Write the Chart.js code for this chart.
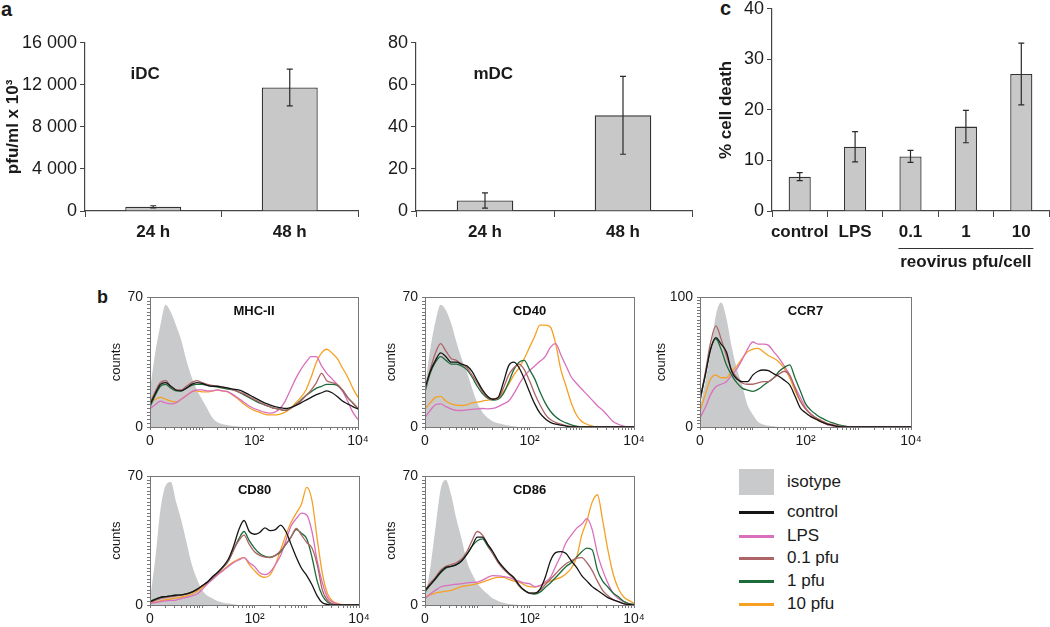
<!DOCTYPE html>
<html>
<head>
<meta charset="utf-8">
<script src="https://cdn.jsdelivr.net/npm/chart.js@4.4.1/dist/chart.umd.min.js"></script>
<style>
  body { margin: 0; width: 1050px; height: 627px; position: relative; overflow: hidden; background: #fff;
         font-family: 'Liberation Sans', Arial, sans-serif; color: #1a1a1a; }
  .tag { position: absolute; font-weight: bold; line-height: 1; }
  .legend { position: absolute; left: 739px; top: 469px; font-size: 17px; }
  .legend .row { position: absolute; left: 0; height: 24px; width: 160px; }
  .legend .sw { position: absolute; left: 0; }
  .legend .tx { position: absolute; left: 48px; top: 0; line-height: 24px; white-space: nowrap; }
</style>
</head>
<body>
<div class="tag" style="left:1px;top:-1px;font-size:20px">a</div>
<div class="tag" style="left:97px;top:288px;font-size:18px">b</div>
<div class="tag" style="left:720px;top:-2px;font-size:20px">c</div>
<div class="legend" id="legend"></div>

<script>
// ---- panel a : virus titres ----
const timeLabels = ['24 h', '48 h'];
const iDC = [400, 11750];
const iDCErr = [100, 1750];
const mDC = [5, 45.5];
const mDCErr = [3.6, 18.5];

// ---- panel c : cell death ----
const deathLabels = ['control', 'LPS', '0.1', '1', '10'];
const death = [6.8, 12.7, 10.8, 16.7, 27.1];
const deathErr = [0.8, 3.0, 1.2, 3.2, 6.1];

// ---- panel b : histograms, x in decades (0 = left edge, 2 = 10^2, 4 = 10^4) ----
const BINS = [0, 0.1, 0.2, 0.3, 0.4, 0.5, 0.6, 0.7, 0.8, 0.9, 1, 1.1, 1.2, 1.3, 1.4, 1.5, 1.6, 1.7, 1.8, 1.9,
  2, 2.1, 2.2, 2.3, 2.4, 2.5, 2.6, 2.7, 2.8, 2.9, 3, 3.1, 3.2, 3.3, 3.4, 3.5, 3.6, 3.7, 3.8, 3.9, 4];
const seriesNames = ['isotype', 'control', 'LPS', '0.1 pfu', '1 pfu', '10 pfu'];

const mhc_iso = [20,40,55,66,62,55,47,36,27,20, 15,10,5,2.5,1.5,1,0.5,0.3,0,0, 0,0,0,0,0,0,0,0,0,0, 0,0,0,0,0,0,0,0,0,0, 0];
const mhc_ctrl = [12,18,23,24,22,20,19.5,21,23,24, 23.5,22.5,22,22,21.5,21,20.5,20,19,17.5, 16,14.5,13,12,11,10.5,10,10.5,11.5,13, 14.5,16,17.5,18.5,19.5,18.5,16.5,14,12.5,11, 9.7];
const mhc_lps = [10,12,14,13,12.5,13,15,17,19,20, 20,19.5,19.5,20,19.5,19,17.5,15.5,13.5,11.5, 10,9,8,7.5,8,10,14,20,26,31, 35,38,38,33,29,26,23,19.5,14,8, 4];
const mhc_p01 = [13,19,24,25,22,20,20,22,24,25, 24,23,22.5,22,21.5,21,20,19,18,16.5, 15,13.5,12,11,10,9.5,9,10,12,14, 17,20,24,29,25,24,23,20,16,13, 10];
const mhc_p1 = [11,17,22,23,21,19.5,19.5,21,22.5,23, 23,22.5,22,21.5,21,20.5,20,19,17.5,16, 14.5,13,12,11,10,9.5,9,10,12,14.5, 17,19,21,22,23,23,22.5,20,16,13, 10];
const mhc_p10 = [13,15,16,15,14,13.5,15,17,19,19.5, 19,19,19.5,20,19.5,19,17,15,12.5,10.5, 9,8,7,6.5,6.5,7,8,10,13,16, 20,27,35,40,42,40,37,32,27,21, 16];

const cd40_iso = [22,42,57,66,63,56,46,37,30,21, 13,8,5,3,2,1.4,0.8,0.4,0,0, 0,0,0,0,0,0,0,0,0,0, 0,0,0,0,0,0,0,0,0,0, 0];
const cd40_ctrl = [21,30,36,40,38,35,35,34,33,30, 25,20,16.5,15,16,24,33,35,32,26, 19,12.5,7.5,4.5,2.5,1.5,1,0.5,0,0, 0,0,0,0,0,0,0,0,0,0, 0];
const cd40_lps = [5,9,12,12.5,11,9.8,9,8.9,9.2,9.5, 9.8,10,9.8,10,11,12.5,14,18,23,27.5, 30.5,33,35.5,38,43,45,39,33,27,23.5, 20.5,17.5,14.5,11.5,9,6,3,1.5,0.5,0, 0];
const cd40_p01 = [20,31,40,45,41,37,36,34,32,28, 24,19,16,15,15.5,21,28,32,34,31, 25,18,12,7,4,2.5,1.5,0.8,0.3,0, 0,0,0,0,0,0,0,0,0,0, 0];
const cd40_p1 = [19,29,35,38,36,34,34,33,31,27, 22,18,15.5,14.5,15,18,24,31,35,36, 31,26,19,13,8.5,5.5,3.5,2.2,1.2,0.5, 0,0,0,0,0,0,0,0,0,0, 0];
const cd40_p10 = [9.8,13,16,16.5,14,12.5,11.8,11.6,12,13, 13.4,14,14.5,15,16,19,23,28,32,37, 43,49,55,55,54,45,31,22,13,6.5, 3,1.5,0.5,0,0,0,0,0,0,0, 0];

const ccr7_iso = [15,35,58,86,96,84,62,45,32,17, 9.7,4,2,1,0.5,0,0,0,0,0, 0,0,0,0,0,0,0,0,0,0, 0,0,0,0,0,0,0,0,0,0, 0];
const ccr7_ctrl = [22,40,60,69,64,58,43,37,35,35, 40,43,44,43.5,41,39,36,32.6,24,14.8, 11,8,6,4,2.5,1.5,0.5,0,0,0, 0,0,0,0,0,0,0,0,0,0, 0];
const ccr7_lps = [7,15,25,31,33,35,40,45,52,60, 65.6,64,64,63,58,53,47,40,31,23, 15,10,7,4,2,1,0.5,0,0,0, 0,0,0,0,0,0,0,0,0,0, 0];
const ccr7_p01 = [20,42,65,78,68,55,44,38,34,33, 33,34,35,35,38,41,43,40,30,20, 14,10,7,5,3,2,1,0.5,0,0, 0,0,0,0,0,0,0,0,0,0, 0];
const ccr7_p1 = [20,40,60,68,60,48,40,34,30,28.5, 27.5,29,32,35,38,43,46,48,38,28, 18,13,9.7,7,5,3.3,2,1,0.3,0, 0,0,0,0,0,0,0,0,0,0, 0];
const ccr7_p10 = [12,25,37,40,38,38,43,47,53,58, 60,60.6,58,55,53,50,45,38,28,20, 14,9.7,6,4,2,1,0.5,0,0,0, 0,0,0,0,0,0,0,0,0,0, 0];

const cd80_iso = [3,25,52,65,67,56,46,34,22,14, 8,5,3.6,2,1.2,0.8,0.4,0,0,0, 0,0,0,0,0,0,0,0,0,0, 0,0,0,0,0,0,0,0,0,0, 0];
const cd80_ctrl = [1.8,3,4.2,4.6,5,5.3,5.5,6,7,8.5, 10.5,12.5,15.5,18,21,25,32,41,46,40, 38.5,39.5,42,40.5,41,43.5,40,33,26,20, 16,11,5,1.2,0.3,0,0,0,0,0, 0];
const cd80_lps = [0.9,1.3,1.8,2.2,2.5,2.7,3.5,4.2,5,6, 8.5,11.6,14,16.5,18.7,21,23,24.5,25.8,23, 21,17.5,16.5,18,22,27,35,43,47,50, 49,40,24,12,4,1.5,0.5,0,0,0, 0];
const cd80_p01 = [1.5,2.5,3.5,4,4.5,5,5.5,6,7,8.5, 10.5,12.5,15,17.5,20.5,24,30,35,38,33, 29,27,26,25.8,27,29.5,33,37,41.7,38, 34,31,22,8,2.5,0.5,0,0,0,0, 0];
const cd80_p1 = [2,3.2,4.2,4.6,5,5.3,5.5,6,7,8.5, 10.5,12.5,15,17.5,20.5,24,30,36,40,35, 31,28,26.5,26,27,29,33,37,41,39, 36,26,13,5,1.5,0.5,0,0,0,0, 0];
const cd80_p10 = [1,1.5,2.2,2.8,3.3,3.8,4.3,5,6,7.5, 9.5,12,14.5,17,19,21.5,23.5,25,25.8,22, 18.7,16,15,16.5,22,30,38,45,50,55, 64,57,36,17,6,2,0.8,0,0,0, 0];

const cd86_iso = [4,20,42,63,68,60,47,36,24,17, 12,8.5,6,3.5,2.2,1.2,0.6,0.3,0,0, 0,0,0,0,0,0,0,0,0,0, 0,0,0,0,0,0,0,0,0,0, 0];
const cd86_ctrl = [8,11,14.5,18,20.5,21,22,24,27.5,32, 37,37,33,29,24,20.5,17.5,15,11,8, 6.5,6.5,8.5,15,24,28.5,29,28,24,20.5, 16,13,10,8,6,4,2.8,1.8,0.8,0.3, 0];
const cd86_lps = [3.6,6,8,9.8,10.5,11,11.3,11.6,12,12.3, 12.5,13.5,15,16,15.8,15.5,15,14,13,12, 11.6,10,10.5,12.5,15,21,27,34,38,41.7, 44,47,41,28,19,12,6.5,3.5,1.8,0.8, 0.3];
const cd86_p01 = [8,12,15,19,21,22,23,25,29,35, 40,38,33,28,23,19.5,17,14.5,10.5,8, 6.5,6.5,8,11,14,17,20,22.5,24,25.5, 25.8,23,18.7,13,8,5,3,1.8,0.8,0.3, 0];
const cd86_p1 = [7,11,14,17.5,20,21,22,24,27.5,32, 35,36,32,28,23.5,20,17,14.5,10.5,8, 6.5,6,7,9.5,12,15,18,21,23,26, 29,31,30,19,13,9.8,6.5,4.5,2,0.8, 0.3];
const cd86_p10 = [4.5,5.5,6.5,7,7.5,8,9,10,10.5,11, 11.6,12.5,13.5,14.5,15,15,14,13,12.5,11, 10,9.8,10.5,12,13,14,15,17,20,25.8, 38,46,56,60,46,30,17,9,4.5,2.5, 1];

const FONT = "'Liberation Sans', Arial, sans-serif";
const ISO_COLOR = '#c9cacc';
const LINE_COLORS = { 'control': '#151515', 'LPS': '#d970bd', '0.1 pfu': '#ad6466', '1 pfu': '#1d6b38', '10 pfu': '#f6a024' };

Chart.defaults.font.family = FONT;
Chart.defaults.color = '#1a1a1a';
Chart.defaults.animation = false;

function addCanvas(area, yW, xH, padT, padR) {
    const c = document.createElement('canvas');
    const w = area[2] - area[0] + yW + padR;
    const h = area[3] - area[1] + padT + xH;
    c.width = w; c.height = h;
    c.style.cssText = `position:absolute;left:${area[0] - yW}px;top:${area[1] - padT}px;width:${w}px;height:${h}px`;
    document.body.appendChild(c);
    return c;
}

// error bars drawn from the bar values through the y scale
const errorBars = {
    id: 'errorBars',
    afterDatasetsDraw(chart, args, opts) {
        const ctx = chart.ctx;
        const y = chart.scales.y;
        const vals = chart.data.datasets[0].data;
        ctx.save();
        ctx.strokeStyle = '#2a2a2a';
        ctx.lineWidth = 1.2;
        chart.getDatasetMeta(0).data.forEach((bar, i) => {
            const top = y.getPixelForValue(vals[i] + opts.errors[i]);
            const bot = y.getPixelForValue(Math.max(vals[i] - opts.errors[i], 0));
            ctx.beginPath();
            ctx.moveTo(bar.x, top); ctx.lineTo(bar.x, bot);
            ctx.moveTo(bar.x - 3, top); ctx.lineTo(bar.x + 3, top);
            ctx.moveTo(bar.x - 3, bot); ctx.lineTo(bar.x + 3, bot);
            ctx.stroke();
        });
        ctx.restore();
    }
};

// bold label inside a bar panel (iDC / mDC)
const note = {
    id: 'note',
    afterDraw(chart, args, o) {
        if (!o.text) return;
        const ctx = chart.ctx;
        ctx.save();
        ctx.font = `bold 17px ${FONT}`;
        ctx.fillStyle = '#1a1a1a';
        ctx.textAlign = 'center';
        ctx.textBaseline = 'middle';
        ctx.fillText(o.text, chart.scales.x.getPixelForValue(o.at), chart.scales.y.getPixelForValue(o.value));
        ctx.restore();
    }
};

// "reovirus pfu/cell" bracket under the last three bars
const groupLabel = {
    id: 'groupLabel',
    afterDraw(chart, args, o) {
        if (!o.text) return;
        const ctx = chart.ctx;
        const bars = chart.getDatasetMeta(0).data;
        const x0 = bars[o.from].x - bars[o.from].width / 2 - 1;
        const x1 = bars[o.to].x + bars[o.to].width / 2 + 1;
        const y = chart.chartArea.bottom + o.gap;
        ctx.save();
        ctx.strokeStyle = '#333';
        ctx.lineWidth = 1;
        ctx.beginPath();
        ctx.moveTo(x0, y + 0.5); ctx.lineTo(x1, y + 0.5);
        ctx.stroke();
        ctx.font = `bold 17px ${FONT}`;
        ctx.fillStyle = '#1a1a1a';
        ctx.textAlign = 'center';
        ctx.textBaseline = 'top';
        ctx.fillText(o.text, (x0 + x1) / 2, y + 6);
        ctx.restore();
    }
};

// box around a histogram and its marker name
const frame = {
    id: 'frame',
    afterDraw(chart, args, o) {
        const { ctx, chartArea: a } = chart;
        ctx.save();
        ctx.strokeStyle = '#777';
        ctx.lineWidth = 1;
        ctx.strokeRect(Math.round(a.left) + 0.5, Math.round(a.top) + 0.5, Math.round(a.right - a.left), Math.round(a.bottom - a.top));
        ctx.font = `bold 13px ${FONT}`;
        ctx.fillStyle = '#111';
        ctx.textAlign = 'center';
        ctx.textBaseline = 'middle';
        ctx.fillText(o.title, (a.left + a.right) / 2, a.top + 14);
        ctx.restore();
    }
};

const spaced = v => String(v).replace(/\B(?=(\d{3})+(?!\d))/g, ' ');

function barChart(canvas, o) {
    return new Chart(canvas, {
        type: 'bar',
        data: {
            labels: o.labels,
            datasets: [{
                data: o.values,
                backgroundColor: '#c8c8c8',
                borderColor: '#333',
                borderWidth: 1.3,
                borderSkipped: 'bottom',
                categoryPercentage: 1,
                barPercentage: o.barPct
            }]
        },
        options: {
            responsive: false,
            maintainAspectRatio: false,
            layout: { padding: { top: o.padT, right: o.padR, left: 0, bottom: 0 } },
            plugins: {
                legend: { display: false },
                tooltip: { enabled: false },
                errorBars: { errors: o.errors },
                note: o.note || {},
                groupLabel: o.group || {}
            },
            scales: {
                x: {
                    grid: { offset: true, drawOnChartArea: false, tickLength: 6, color: '#444' },
                    border: { color: '#444', width: 1.2 },
                    ticks: { font: { size: 17, weight: 'bold' }, padding: 5, color: '#1a1a1a',
                             autoSkip: false, maxRotation: 0, minRotation: 0 },
                    afterFit: s => { s.height = o.xH; }
                },
                y: {
                    min: 0, max: o.max,
                    grid: { drawOnChartArea: false, tickLength: 5, color: '#444' },
                    border: { color: '#444', width: 1.2 },
                    ticks: { stepSize: o.step, font: { size: 18 }, padding: 3, color: '#1a1a1a', callback: spaced },
                    title: { display: !!o.yTitle, text: o.yTitle, font: { size: 17, weight: 'bold' }, padding: { top: o.titlePad, bottom: 0 }, color: '#1a1a1a' },
                    afterFit: s => { s.width = o.yW; }
                }
            }
        },
        plugins: [errorBars, note, groupLabel]
    });
}

// decade ticks of the log axis (positions only; labels at 0, 10^2, 10^4)
const LOG_TICKS = [];
for (let d = 0; d < 4; d++) for (let k = 1; k <= 9; k++) LOG_TICKS.push(d + Math.log10(k));
LOG_TICKS.push(4);
const xLabel = v => (v === 0 ? '0' : v === 2 ? '10²' : v === 4 ? '10⁴' : '');

function histChart(canvas, o) {
    const toXY = vals => vals.map((y, i) => ({ x: BINS[i], y }));
    const order = ['control', '0.1 pfu', '1 pfu', 'LPS', '10 pfu'];
    const datasets = order.map(name => ({
        label: name,
        data: toXY(o.series[name]),
        borderColor: LINE_COLORS[name],
        borderWidth: 1.3,
        pointRadius: 0,
        fill: false,
        cubicInterpolationMode: 'monotone'
    }));
    datasets.push({
        label: 'isotype',
        data: toXY(o.series['isotype']),
        borderWidth: 0,
        borderColor: ISO_COLOR,
        backgroundColor: ISO_COLOR,
        pointRadius: 0,
        fill: 'origin',
        cubicInterpolationMode: 'monotone'
    });
    return new Chart(canvas, {
        type: 'line',
        data: { datasets },
        options: {
            responsive: false,
            maintainAspectRatio: false,
            layout: { padding: { top: 10, right: 14, left: 0, bottom: 0 } },
            plugins: { legend: { display: false }, tooltip: { enabled: false }, frame: { title: o.title } },
            scales: {
                x: {
                    type: 'linear', min: 0, max: 4,
                    afterBuildTicks: s => { s.ticks = LOG_TICKS.map(v => ({ value: v })); },
                    grid: { drawOnChartArea: false, tickLength: 3, color: '#777' },
                    border: { color: '#777' },
                    ticks: { autoSkip: false, maxRotation: 0, font: { size: 14 }, padding: 3, color: '#1a1a1a', callback: xLabel },
                    afterFit: s => { s.height = 26; }
                },
                y: {
                    min: 0, max: o.max,
                    grid: { drawOnChartArea: false, tickLength: 3, color: '#777' },
                    border: { color: '#777' },
                    ticks: { stepSize: o.step, autoSkip: false, maxTicksLimit: 100, font: { size: 14 }, padding: 4, color: '#1a1a1a',
                             callback: v => (v === 0 || v === o.max ? String(v) : '') },
                    title: { display: true, text: 'counts', font: { size: 13 }, padding: { top: 4, bottom: 0 }, color: '#1a1a1a' },
                    afterFit: s => { s.width = o.yW; }
                }
            }
        },
        plugins: [frame]
    });
}

function pack(iso, ctrl, lps, p01, p1, p10) {
    const s = {};
    [iso, ctrl, lps, p01, p1, p10].forEach((arr, i) => { s[seriesNames[i]] = arr; });
    return s;
}

// ---- panel a ----
barChart(addCanvas([85, 41, 358, 211], 85, 36, 12, 4), {
    labels: timeLabels, values: iDC, errors: iDCErr, max: 16000, step: 4000,
    yTitle: 'pfu/ml x 10³', titlePad: 3, yW: 85, xH: 36, padT: 12, padR: 4, barPct: 0.41,
    note: { text: 'iDC', at: -0.06, value: 13000 }
});
barChart(addCanvas([416, 41, 692, 211], 60, 36, 12, 4), {
    labels: timeLabels, values: mDC, errors: mDCErr, max: 80, step: 20,
    yTitle: '', titlePad: 0, yW: 60, xH: 36, padT: 12, padR: 4, barPct: 0.41,
    note: { text: 'mDC', at: 0.06, value: 65 }
});

// ---- panel c ----
barChart(addCanvas([772, 7, 1049, 211], 60, 64, 12, 1), {
    labels: deathLabels, values: death, errors: deathErr, max: 40, step: 10,
    yTitle: '% cell death', titlePad: 4, yW: 60, xH: 64, padT: 12, padR: 1, barPct: 0.4,
    group: { text: 'reovirus pfu/cell', from: 2, to: 4, gap: 37 }
});

// ---- panel b ----
histChart(addCanvas([150, 295, 358, 427], 45, 26, 10, 14), { title: 'MHC-II', max: 70, step: 2, yW: 45,
    series: pack(mhc_iso, mhc_ctrl, mhc_lps, mhc_p01, mhc_p1, mhc_p10) });
histChart(addCanvas([425, 295, 634, 427], 45, 26, 10, 14), { title: 'CD40', max: 70, step: 2, yW: 45,
    series: pack(cd40_iso, cd40_ctrl, cd40_lps, cd40_p01, cd40_p1, cd40_p10) });
histChart(addCanvas([700, 295, 911, 427], 50, 26, 10, 14), { title: 'CCR7', max: 100, step: 2.5, yW: 50,
    series: pack(ccr7_iso, ccr7_ctrl, ccr7_lps, ccr7_p01, ccr7_p1, ccr7_p10) });
histChart(addCanvas([150, 474, 359, 605], 45, 26, 10, 14), { title: 'CD80', max: 70, step: 2, yW: 45,
    series: pack(cd80_iso, cd80_ctrl, cd80_lps, cd80_p01, cd80_p1, cd80_p10) });
histChart(addCanvas([425, 474, 634, 605], 45, 26, 10, 14), { title: 'CD86', max: 70, step: 2, yW: 45,
    series: pack(cd86_iso, cd86_ctrl, cd86_lps, cd86_p01, cd86_p1, cd86_p10) });

// ---- shared legend ----
const legend = document.getElementById('legend');
const rowTops = [0, 31, 55, 77, 100, 123];
seriesNames.forEach((name, i) => {
    const row = document.createElement('div');
    row.className = 'row';
    row.style.top = rowTops[i] + 'px';
    const sw = document.createElement('div');
    sw.className = 'sw';
    if (name === 'isotype') {
        sw.style.cssText = `top:0;width:35px;height:26px;background:${ISO_COLOR}`;
    } else {
        sw.style.cssText = `top:11px;width:35px;height:3px;background:${LINE_COLORS[name]}`;
    }
    const tx = document.createElement('div');
    tx.className = 'tx';
    tx.style.top = name === 'isotype' ? '1px' : '0';
    tx.textContent = name;
    row.appendChild(sw);
    row.appendChild(tx);
    legend.appendChild(row);
});
</script>
</body>
</html>
